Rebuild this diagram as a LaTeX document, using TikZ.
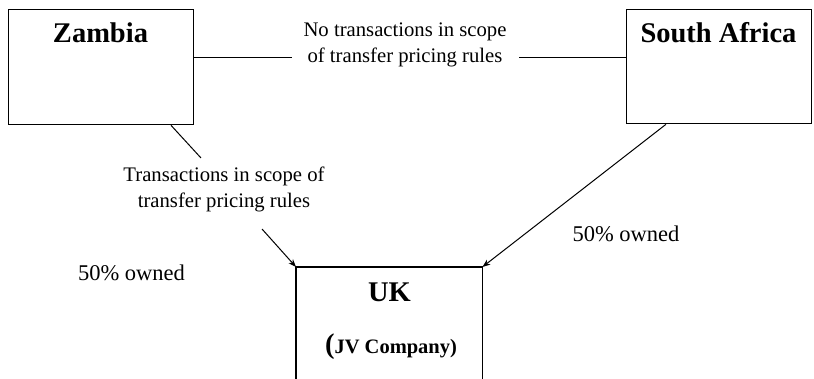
\documentclass[tikz,border=0pt]{standalone}
\usepackage{fontspec}
\setmainfont{Liberation Serif}
\usetikzlibrary{arrows.meta,calc}

\begin{document}
\begin{tikzpicture}[x=1pt,y=-1pt,
  entity/.style={draw,line width=1.3pt,inner sep=0pt,anchor=north west},
  heading/.style={font=\bfseries\fontsize{28.5}{32}\selectfont,inner sep=0pt},
  note/.style={font=\fontsize{20.7}{26}\selectfont,align=center,inner sep=0pt},
  share/.style={font=\fontsize{22.5}{26}\selectfont,inner sep=0pt},
  link/.style={line width=1pt},
  arrowlink/.style={line width=1pt,-{Stealth[length=8pt,width=6pt]}}]
\useasboundingbox (0,0) rectangle (814,379);

% the three companies
\node[entity,minimum width=185pt,minimum height=115pt] (zambia) at (8,9) {};
\node[entity,minimum width=185pt,minimum height=114pt] (sa) at (626,9) {};
\node[inner sep=0pt,minimum width=186pt,minimum height=112pt,anchor=north west] (uk) at (296,267) {};
\draw[line width=1.3pt] (uk.south west) -- (uk.north west) -- (uk.north east) -- (uk.south east);

\node[heading] (zname) at (100.5,33) {Zambia};
\node[heading] (saname) at (718.5,33) {South Africa};
\node[heading] (ukname) at (389.5,292) {UK};
\node[inner sep=0pt,font=\bfseries] (jv) at (391,347)
  {{\fontsize{28.5}{32}\selectfont(}{\fontsize{20.5}{26}\selectfont JV Company)}};

% text between the boxes
\node[note] (nontx) at (405,45) {No transactions in scope\\of transfer pricing rules};
\node[note] (intx) at (224,189) {Transactions in scope of\\transfer pricing rules};
\node[share] (ownl) at (131.5,273) {50\% owned};
\node[share] (ownr) at (626,234) {50\% owned};

% connectors
\coordinate (zl) at ($(zambia.north east)+(0,49)$);
\coordinate (sl) at ($(sa.north west)+(0,49)$);
\coordinate (nl) at (292,58);
\coordinate (nr) at (519,58);
\draw[link] (zl) -- (nl);
\draw[link] (nr) -- (sl);

\coordinate (zb) at ($(zambia.south west)+(163,0)$);
\coordinate (ta) at (201,158);
\coordinate (tb) at (262,229);
\draw[link] (zb) -- (ta);
\draw[arrowlink] (tb) -- (uk.north west);

\coordinate (sb) at ($(sa.south west)+(40,0)$);
\draw[arrowlink] (sb) -- (uk.north east);
\end{tikzpicture}
\end{document}
